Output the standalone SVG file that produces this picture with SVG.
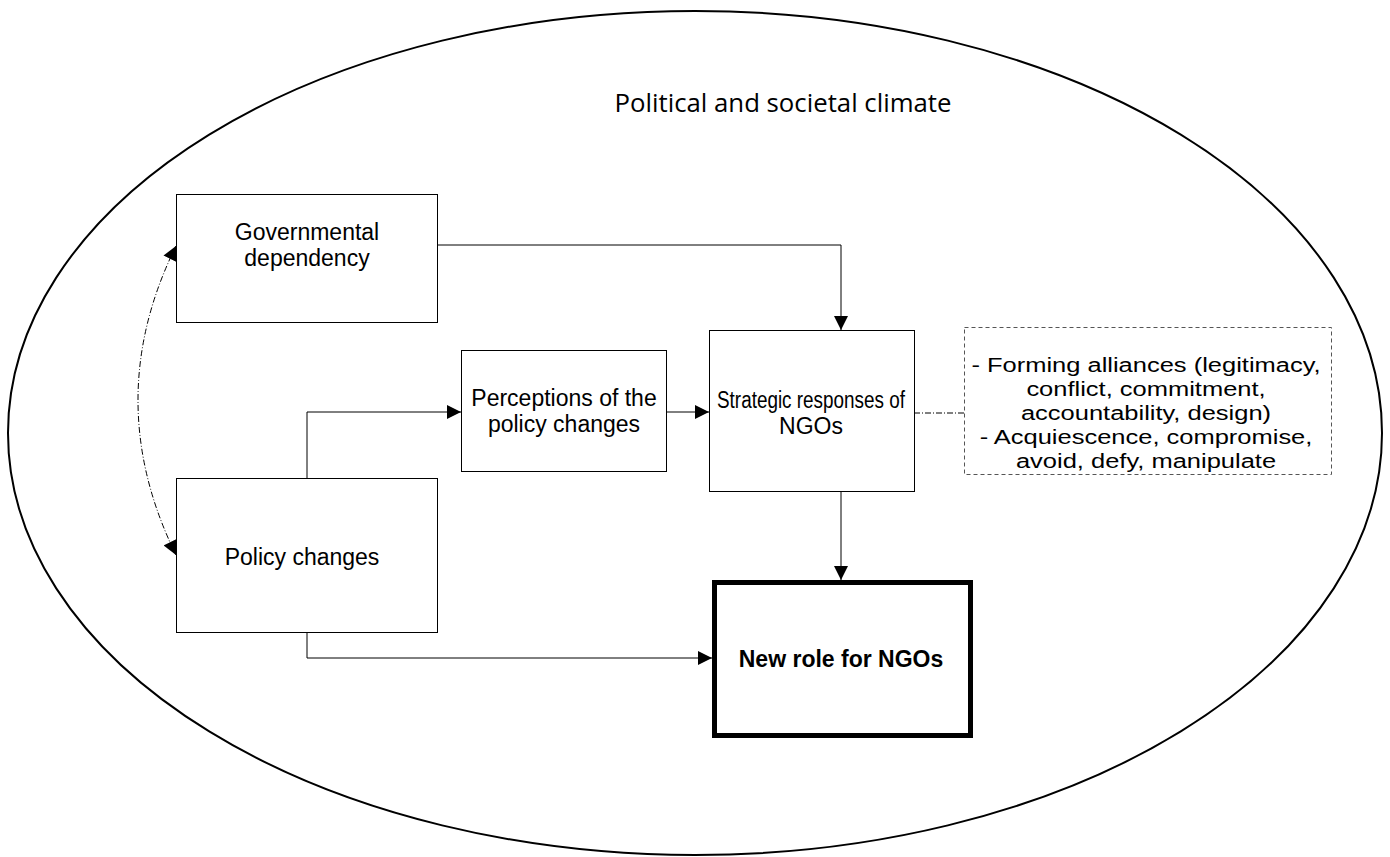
<svg xmlns="http://www.w3.org/2000/svg" width="1390" height="857" viewBox="0 0 1390 857">
<style>
.box{fill:#fff;stroke:#000;stroke-width:1}
.lbl{font-family:"Liberation Sans",Arial,sans-serif;font-size:23px;text-anchor:middle;fill:#000}
.note{font-family:"Liberation Sans",Arial,sans-serif;font-size:25.5px;text-anchor:middle;fill:#000}
.con{fill:none;stroke:#000;stroke-width:1}
</style>
<defs>
<marker id="arr" viewBox="0 0 10 10" refX="10" refY="5" markerWidth="15" markerHeight="14" markerUnits="userSpaceOnUse" orient="auto">
<path d="M0,0 L10,5 L0,10 z" fill="#000"/>
</marker>
<marker id="arrs" viewBox="0 0 10 10" refX="10" refY="5" markerWidth="15" markerHeight="14" markerUnits="userSpaceOnUse" orient="auto-start-reverse">
<path d="M0,0 L10,5 L0,10 z" fill="#000"/>
</marker>
</defs>
<rect width="1390" height="857" fill="#fff"/>
<g id="climate">
<ellipse cx="695" cy="433" rx="687" ry="422" fill="none" stroke="#000" stroke-width="2"/>
<text x="783" y="112" font-family="'Open Sans','Liberation Sans',sans-serif" font-size="25" text-anchor="middle" textLength="337" lengthAdjust="spacingAndGlyphs">Political and societal climate</text>
</g>
<g id="connectors">
<path class="con" d="M437,245 H841 V330" marker-end="url(#arr)"/>
<path class="con" d="M307,478 V412 H461" marker-end="url(#arr)"/>
<path class="con" d="M666,412 H709" marker-end="url(#arr)"/>
<path class="con" d="M841,491 V580" marker-end="url(#arr)"/>
<path class="con" d="M307,632 V658 H712" marker-end="url(#arr)"/>
<path class="con" d="M914,413 H964" stroke-dasharray="6,2,1,2" stroke="#555"/>
<path class="con" d="M176,246 Q100,400 176,555" stroke-dasharray="6,2,1,2" marker-start="url(#arrs)" marker-end="url(#arr)"/>
</g>
<g id="gov">
<rect class="box" x="176.5" y="194.5" width="261" height="128"/>
<text class="lbl" x="307" y="240">Governmental</text>
<text class="lbl" x="307" y="266">dependency</text>
</g>
<g id="perceptions">
<rect class="box" x="461.5" y="350.5" width="205" height="121"/>
<text class="lbl" x="564" y="406">Perceptions of the</text>
<text class="lbl" x="564" y="432">policy changes</text>
</g>
<g id="strategic">
<rect class="box" x="709.5" y="330.5" width="205" height="161"/>
<text class="lbl" x="811" y="408" textLength="188" lengthAdjust="spacingAndGlyphs">Strategic responses of</text>
<text class="lbl" x="811" y="434">NGOs</text>
</g>
<g id="note">
<rect x="964.5" y="327.5" width="367" height="147" fill="#fff" stroke="#555" stroke-width="1" stroke-dasharray="4,3"/>
<g transform="translate(1146 0) scale(1 0.76)">
<text class="note" x="0" y="489.5">- Forming alliances (legitimacy,</text>
<text class="note" x="0" y="521">conflict, commitment,</text>
<text class="note" x="0" y="552.6">accountability, design)</text>
<text class="note" x="0" y="584.2">- Acquiescence, compromise,</text>
<text class="note" x="0" y="615.8">avoid, defy, manipulate</text>
</g>
</g>
<g id="policy">
<rect class="box" x="176.5" y="478.5" width="261" height="154"/>
<text class="lbl" x="302" y="565" font-size="24.5">Policy changes</text>
</g>
<g id="newrole">
<rect x="714.5" y="582.5" width="256" height="153" fill="#fff" stroke="#000" stroke-width="5"/>
<text class="lbl" x="841" y="667" font-weight="bold">New role for NGOs</text>
</g>
</svg>
